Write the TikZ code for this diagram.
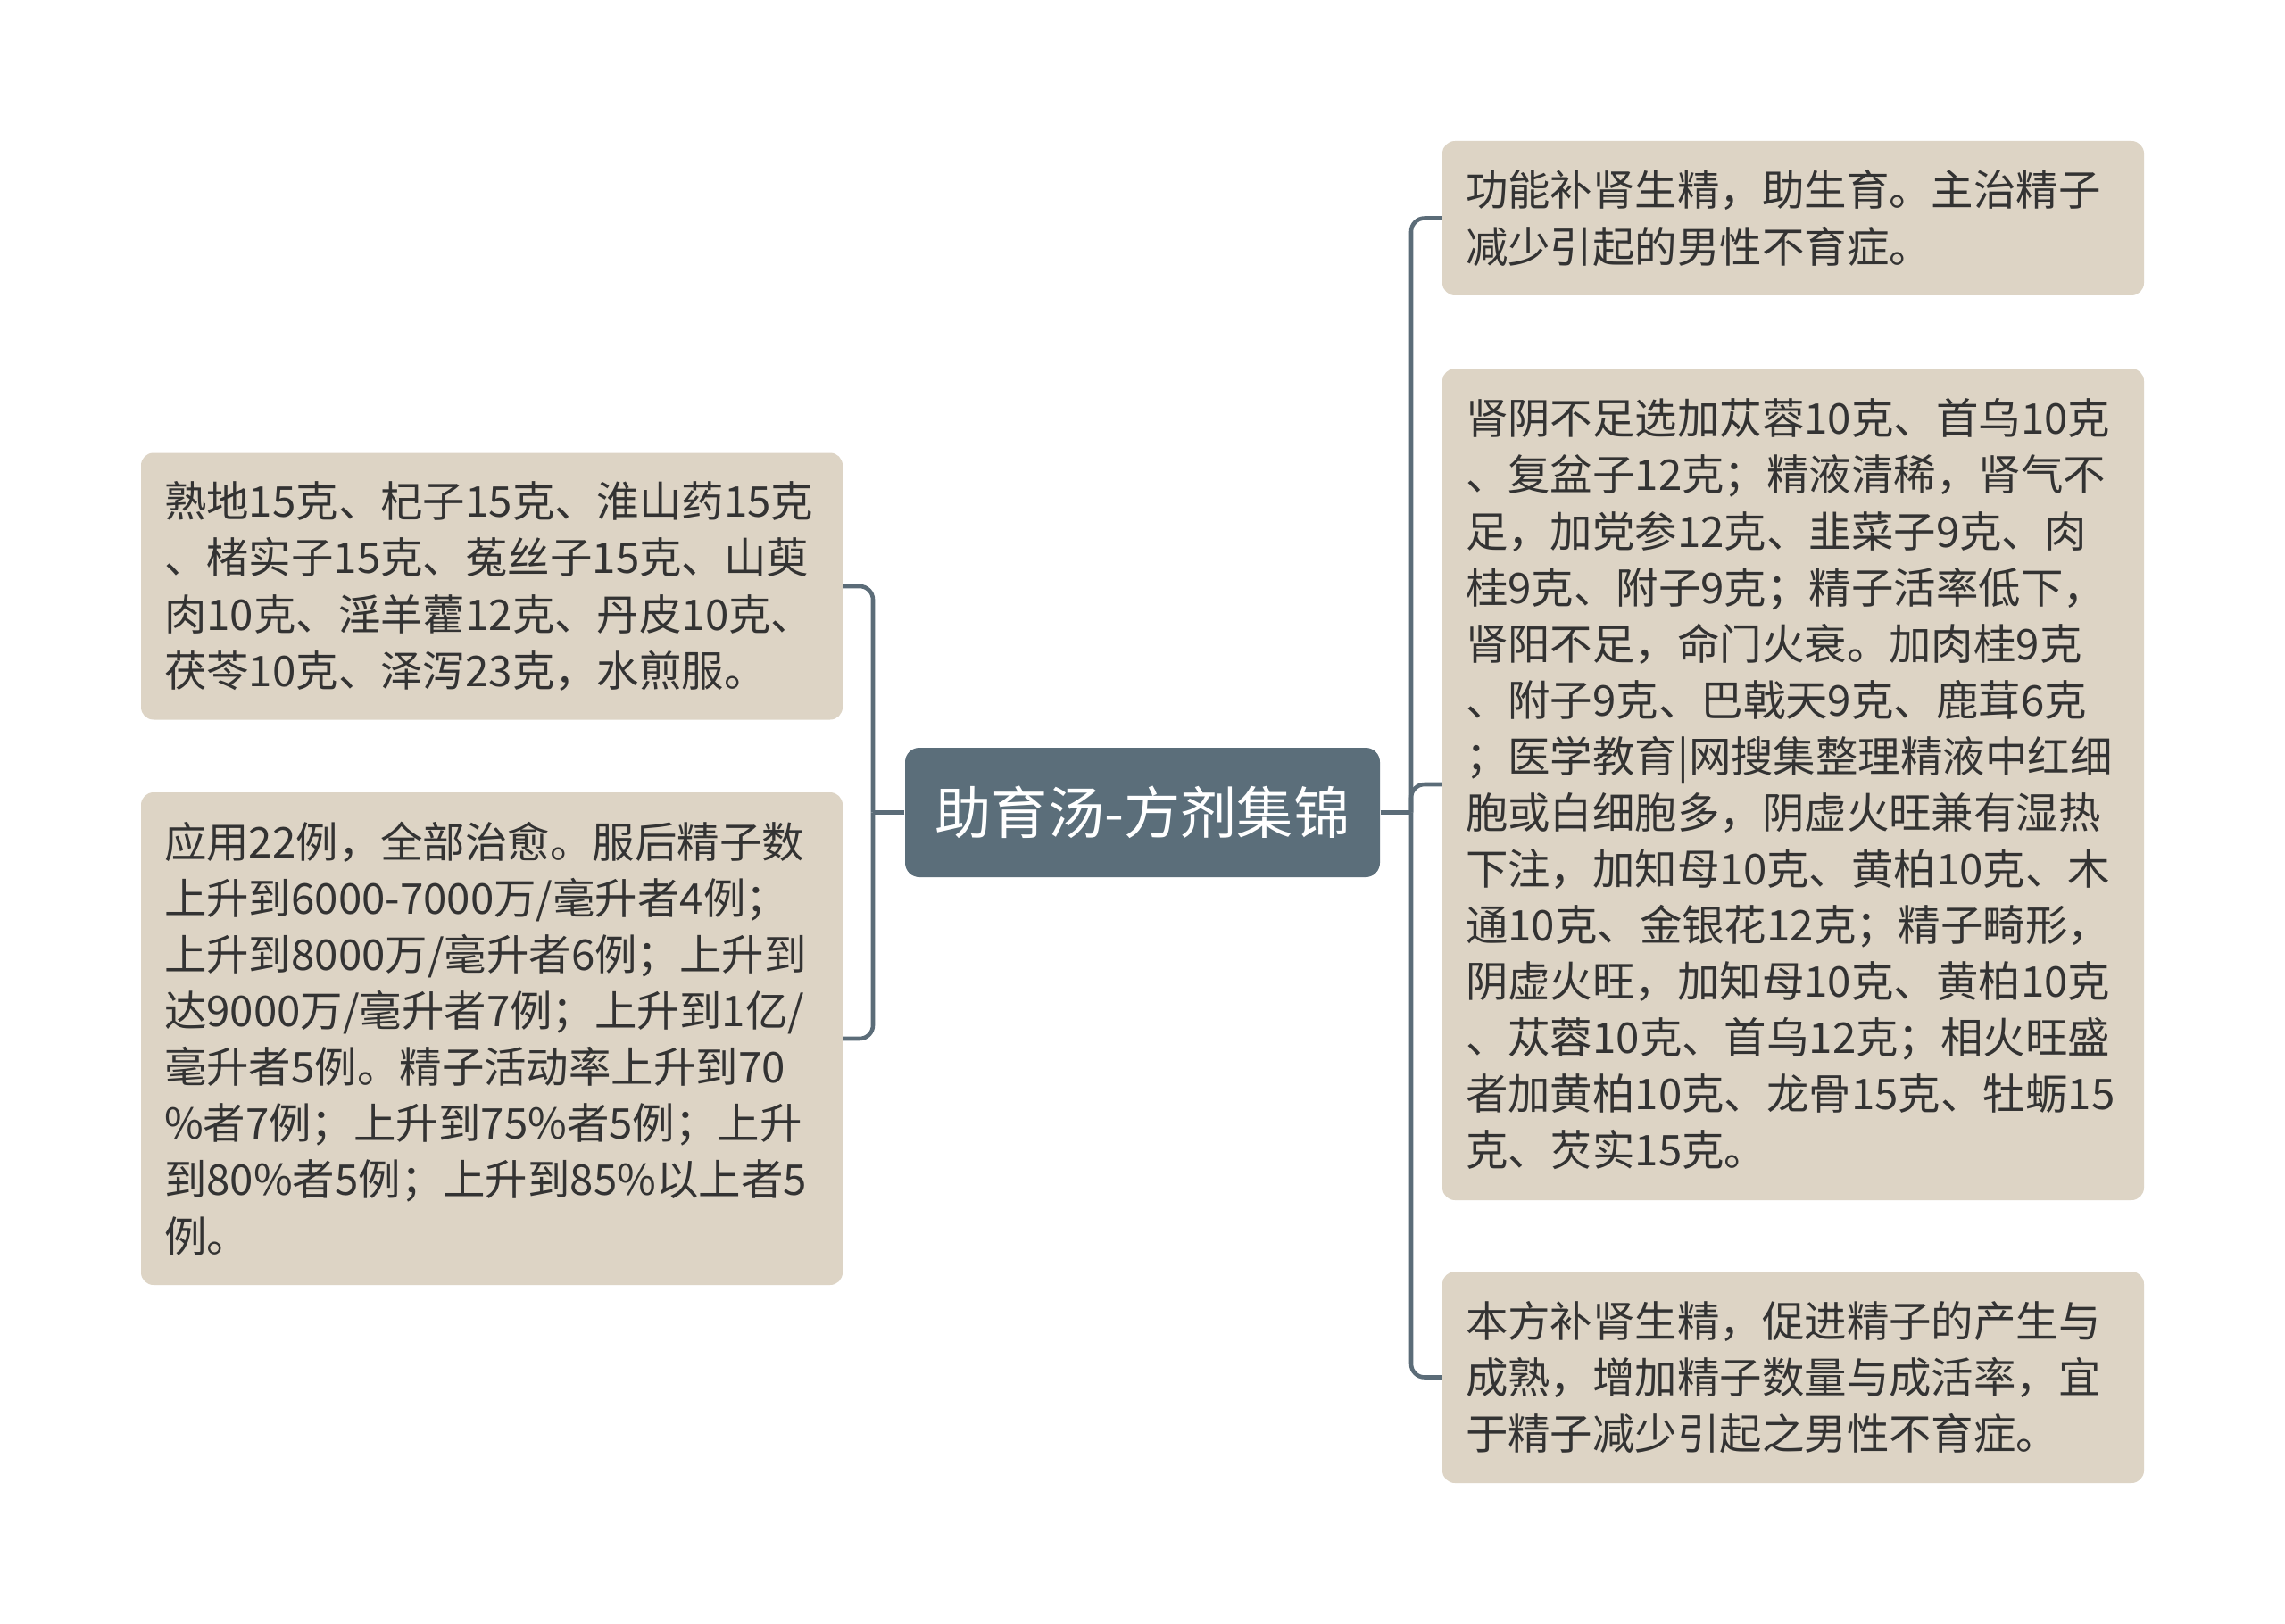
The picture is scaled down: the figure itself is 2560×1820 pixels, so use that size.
\documentclass[tikz,border=0pt]{standalone}
\usepackage{fontspec}
\setmainfont{Noto Sans CJK SC}
\usepackage{tikz}
\definecolor{leafbg}{RGB}{221,212,197}
\definecolor{rootbg}{RGB}{91,110,122}
\definecolor{linkc}{RGB}{91,108,120}
\definecolor{txt}{RGB}{51,51,51}

\tikzset{
  leaf/.style={fill=leafbg, rounded corners=1.4mm, text=txt, align=left,
    text width=73.4mm, inner xsep=2.6mm, inner ysep=0pt,
    font=\fontsize{13.5pt}{17.95pt}\selectfont},
  topic/.style={fill=rootbg, rounded corners=1.6mm, text=white,
    minimum width=53.2mm, minimum height=14.5mm,
    font=\fontsize{18pt}{20pt}\selectfont},
  link/.style={draw=linkc, line width=1.3pt, rounded corners=1.5mm}
}

\begin{document}
\begin{tikzpicture}[x=0.1mm,y=-0.1mm]

\fill[white] (0,0) rectangle (2560,1820);
\useasboundingbox (0,0) rectangle (2560,1820);

\node[topic] (root) at (1280,910.5) {助育汤-方剂集锦};

\node[leaf,minimum height=29.9mm] (l1) at (551,657) {熟地15克、杞子15克、淮山药15克\\、楮实子15克、菟丝子15克、山萸\\肉10克、淫羊藿12克、丹皮10克、\\茯苓10克、泽泻23克，水煎服。};
\node[leaf,minimum height=55.2mm] (l2) at (551,1164) {应用22例，全部治愈。服后精子数\\上升到6000-7000万/毫升者4例；\\上升到8000万/毫升者6例；上升到\\达9000万/毫升者7例；上升到1亿/\\毫升者5例。精子活动率上升到70\\\%者7例；上升到75\%者5例；上升\\到80\%者5例；上升到85\%以上者5\\例。};

\node[leaf,minimum height=17.3mm] (r1) at (2009,244.5) {功能补肾生精，助生育。主治精子\\减少引起的男性不育症。};
\node[leaf,minimum height=93.2mm] (r2) at (2009,879) {肾阴不足选加苁蓉10克、首乌10克\\、复盆子12克；精液清稀，肾气不\\足，加党参12克、韭菜子9克、肉\\桂9克、附子9克；精子活率低下，\\肾阳不足，命门火衰。加肉桂9克\\、附子9克、巴戟天9克、鹿茸6克\\；医学教育|网搜集整理精液中红细\\胞或白细胞多，阴虚火旺兼有湿热\\下注，加知母10克、黄柏10克、木\\通10克、金银花12克；精子畸形，\\阴虚火旺，加知母10克、黄柏10克\\、苁蓉10克、首乌12克；相火旺盛\\者加黄柏10克、龙骨15克、牡蛎15\\克、芡实15克。};
\node[leaf,minimum height=23.7mm] (r3) at (2009,1543.5) {本方补肾生精，促进精子的产生与\\成熟，增加精子数量与成活率，宜\\于精子减少引起之男性不育症。};

\coordinate (jl) at (978,910.5);
\coordinate (jr) at (1581,910.5);

\draw[link] (root.west) -- (jl);
\draw[link] (jl) |- (l1.east);
\draw[link] (jl) |- (l2.east);

\draw[link] (root.east) -- (jr);
\draw[link] (jr) |- (r1.west);
\draw[link] (jr) |- (r2.west);
\draw[link] (jr) |- (r3.west);

\end{tikzpicture}
\end{document}
